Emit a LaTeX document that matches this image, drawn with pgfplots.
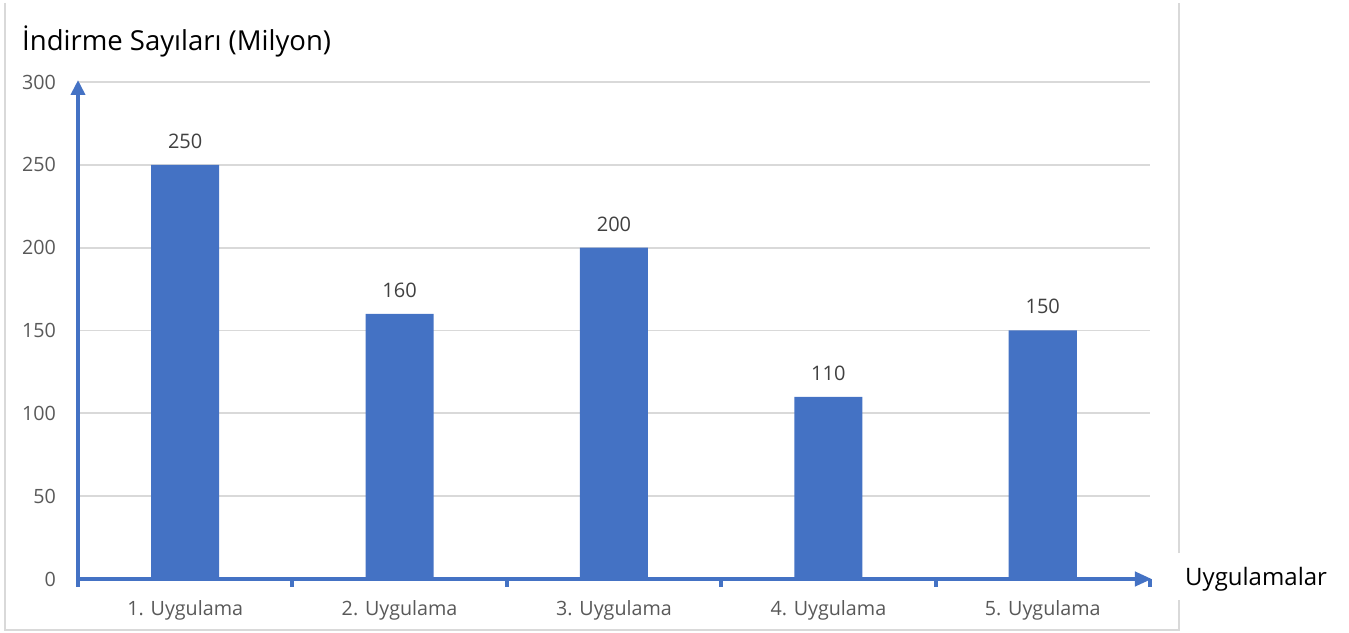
\documentclass[border=0pt]{standalone}
\usepackage{pgfplots}
\pgfplotsset{compat=1.18}
\usepackage{fontspec}
\setmainfont{Open Sans}
\usetikzlibrary{arrows.meta}

\definecolor{barblue}{HTML}{4472C4}
\definecolor{gridgray}{HTML}{D9D9D9}
\definecolor{ticktext}{HTML}{595959}
\definecolor{labeltext}{HTML}{404040}

\begin{document}
\begin{tikzpicture}[x=1pt,y=1pt]
\path[use as bounding box] (0pt,0pt) rectangle (1349pt,632pt);
% chart frame
\draw[gridgray, line width=2pt] (5pt,629pt) -- (5pt,2pt) -- (1179pt,2pt) -- (1179pt,32pt);
\draw[gridgray, line width=2pt] (1179pt,79pt) -- (1179pt,629pt);

\begin{axis}[
    at={(78pt,53pt)}, anchor=south west,
    scale only axis, width=1072pt, height=497pt,
    xmin=-0.5, xmax=4.5, ymin=0, ymax=300,
    enlargelimits=false, clip=false,
    axis line style={draw=none},
    ybar, bar width=68pt,
    ytick={0,50,...,300},
    ymajorgrids=true,
    grid style={gridgray, line width=1.8pt},
    ytick style={draw=none},
    xtick={0,1,2,3,4},
    xticklabels={1. Uygulama,2. Uygulama,3. Uygulama,4. Uygulama,5. Uygulama},
    xtick style={draw=none},
    ticklabel style={font=\fontsize{19.7}{23}\selectfont, text=ticktext},
    xticklabel style={anchor=base, inner sep=0pt, yshift=-32pt},
    yticklabel style={anchor=east, inner sep=0pt, xshift=-22pt},
    /pgf/number format/assume math mode=true,
    nodes near coords,
    every node near coord/.append style={font=\fontsize{20}{24}\selectfont,
        text=labeltext, anchor=base, inner sep=0pt, yshift=16.5pt},
]
\addplot[fill=barblue, draw=none] coordinates {
    (0,250) (1,160) (2,200) (3,110) (4,150)
};
% category boundary ticks
\pgfplotsinvokeforeach{-0.5,0.5,1.5,2.5,3.5,4.5}{
    \draw[barblue, line width=4pt] (axis cs:#1,0) -- ([yshift=-8pt]axis cs:#1,0);
}
% axis lines with arrows
\draw[barblue, line width=4pt, -{Triangle[length=15pt,width=14pt]}]
    (rel axis cs:0,0) -- ([yshift=2pt]rel axis cs:0,1);
\draw[barblue, line width=4pt, -{Triangle[length=17pt,width=14pt]}]
    ([xshift=-2pt]rel axis cs:0,0) -- ([xshift=2pt]rel axis cs:1,0);
\end{axis}

\node[anchor=base west, inner sep=0pt, font=\fontsize{27.5}{32}\selectfont]
    at (22pt,581pt) {İndirme Sayıları (Milyon)};
\node[anchor=base west, inner sep=0pt, font=\fontsize{24}{28}\selectfont]
    at (1185pt,47pt) {Uygulamalar};
\end{tikzpicture}
\end{document}
